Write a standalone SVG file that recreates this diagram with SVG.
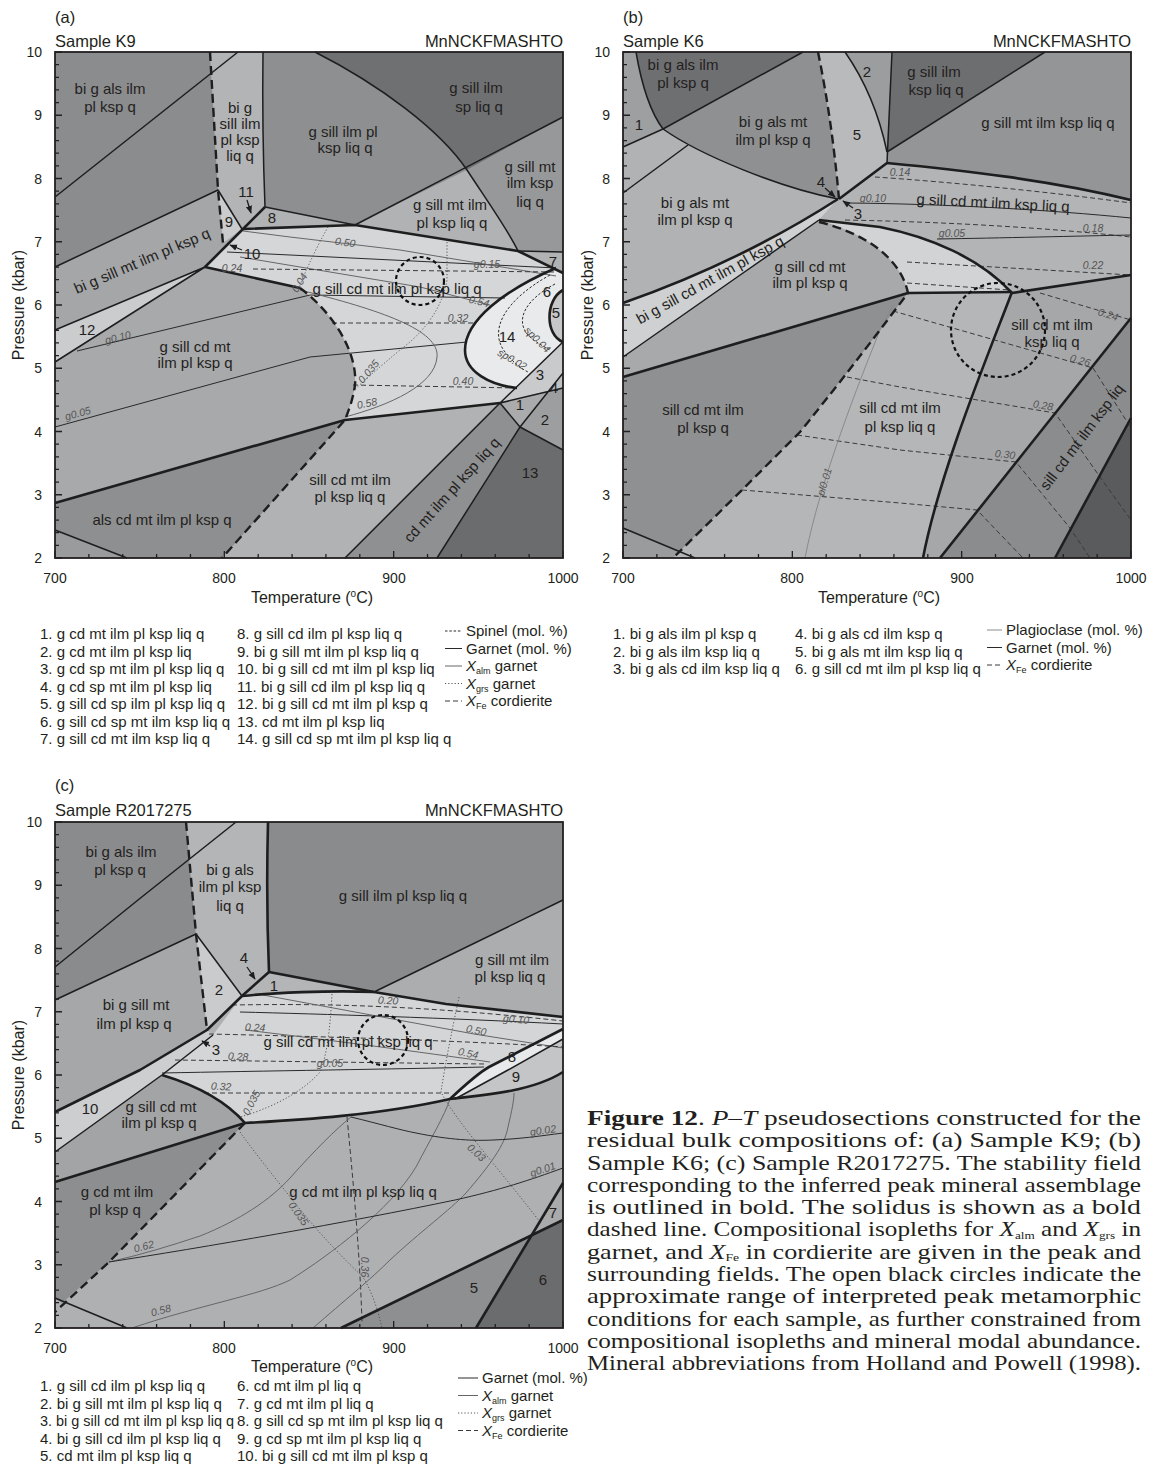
<svg xmlns="http://www.w3.org/2000/svg" width="1166" height="1479" viewBox="0 0 1166 1479">
<defs>
<style>
text{font-family:"Liberation Sans",Arial,sans-serif;fill:#231f20}
.l{font-size:15px;text-anchor:middle}
.ty{font-size:14px;text-anchor:end}
.tx{font-size:14px;text-anchor:middle}
.hd{font-size:16.5px}
.ax{font-size:16px;text-anchor:middle}
.iso{font-size:10.5px;font-style:italic;fill:#555;text-anchor:middle}
.lg{font-size:15px}
.cap{font-family:"Liberation Serif","Times New Roman",serif;font-size:21px}
.fr{fill:none;stroke:#231f20;stroke-width:1.8}
.m{fill:none;stroke:#1e1e1e;stroke-width:1.5;stroke-linejoin:round}
.b{fill:none;stroke:#1e1e1e;stroke-width:2.6;stroke-linejoin:round}
.s{fill:none;stroke:#1e1e1e;stroke-width:2.4;stroke-dasharray:9 5}
.g{fill:none;stroke:#2a2a2a;stroke-width:1}
.a{fill:none;stroke:#666;stroke-width:1}
.pl{fill:none;stroke:#8a8a8a;stroke-width:1}
.r{fill:none;stroke:#555;stroke-width:1;stroke-dasharray:1.2 2}
.f{fill:none;stroke:#3a3a3a;stroke-width:1;stroke-dasharray:5 3}
.sp{fill:none;stroke:#2a2a2a;stroke-width:1;stroke-dasharray:2.5 1.8}
.c{fill:none;stroke:#111;stroke-width:2.2;stroke-dasharray:4 3}
.ar{fill:none;stroke:#1e1e1e;stroke-width:1.3;marker-end:url(#ah)}
</style>
<marker id="ah" viewBox="0 0 10 10" refX="9" refY="5" markerWidth="6" markerHeight="6" orient="auto"><path d="M0,1 L10,5 L0,9 z" fill="#1e1e1e"/></marker>
<path id="xt" fill="none" stroke="#231f20" stroke-width="1.3" d="M0,0v-7M33.87,0v-4M67.73,0v-4M101.6,0v-4M135.47,0v-4M169.33,0v-7M203.2,0v-4M237.07,0v-4M270.93,0v-4M304.8,0v-4M338.67,0v-7M372.53,0v-4M406.4,0v-4M440.27,0v-4M474.13,0v-4M508,0v-7"/>
<path id="yt" fill="none" stroke="#231f20" stroke-width="1.3" d="M0,0h7M0,-12.65h4M0,-25.3h4M0,-37.95h4M0,-50.6h4M0,-63.25h7M0,-75.9h4M0,-88.55h4M0,-101.2h4M0,-113.85h4M0,-126.5h7M0,-139.15h4M0,-151.8h4M0,-164.45h4M0,-177.1h4M0,-189.75h7M0,-202.4h4M0,-215.05h4M0,-227.7h4M0,-240.35h4M0,-253h7M0,-265.65h4M0,-278.3h4M0,-290.95h4M0,-303.6h4M0,-316.25h7M0,-328.9h4M0,-341.55h4M0,-354.2h4M0,-366.85h4M0,-379.5h7M0,-392.15h4M0,-404.8h4M0,-417.45h4M0,-430.1h4M0,-442.75h7M0,-455.4h4M0,-468.05h4M0,-480.7h4M0,-493.35h4M0,-506h7"/>
</defs>
<rect width="1166" height="1479" fill="#fff"/>

<!-- ================= PANEL A ================= -->
<g id="panel-a">
<g id="a-fields" stroke="none">
<rect x="55" y="52" width="508" height="506" fill="#a8a9ab"/>
<path fill="#8b8c8e" d="M55,52H210L218,190L55,267Z"/>
<path fill="#b3b4b6" d="M210,52H263Q262,130 265,207L242,229L218,190Z"/>
<path fill="#cbcccd" d="M218,190L242,229L223,243Z"/>
<path fill="#a5a6a8" d="M55,267L218,190L223,243L205,267L55,330Z"/>
<path fill="#cbcccd" d="M55,330L205,267L55,362Z"/>
<path fill="#8e8f91" d="M263,52H315C380,85 440,130 467,170L355,225L265,207Q262,130 263,52Z"/>
<path fill="#6f7072" d="M315,52H563V117L467,170C440,130 380,85 315,52Z"/>
<path fill="#97989a" d="M467,170L563,117V252L518,251C508,230 490,205 467,170Z"/>
<path fill="#b1b2b4" d="M355,225L467,170C490,205 508,230 518,251Z"/>
<path fill="#b1b2b4" d="M265,207L355,225L243,229Z"/>
<path fill="#b1b2b4" d="M518,251L563,252V273Z"/>
<path fill="#d5d6d8" d="M205,267L243,229L355,225L518,251L556,268C505,290 465,320 465,350C465,372 490,385 517,388L500,403L345,420C348,412 353,400 355,385C358,350 330,310 300,288Z"/>
<path fill="#e9eaeb" d="M556,268L563,273V342L517,388C490,385 465,372 465,350C465,320 505,290 556,268Z"/>
<path fill="#c6c7c9" d="M563,290C545,300 545,335 563,342Z"/>
<path fill="#c9cacc" d="M500,403L517,388L563,342V373L548,391Z"/>
<path fill="#bfc0c2" d="M548,391L563,373V388Z"/>
<path fill="#aaabad" d="M500,403L548,391L520,427Z"/>
<path fill="#9d9ea0" d="M548,391L563,388V450L520,427Z"/>
<path fill="#6b6c6e" d="M520,427L563,450V558H437Z"/>
<path fill="#8f9092" d="M500,403L520,427L437,558H345Z"/>
<path fill="#b1b2b4" d="M345,420L500,403L345,558H222Z"/>
<path fill="#8e8f91" d="M55,503L345,420L222,558H127L55,530Z"/>
<path fill="#9a9b9d" d="M55,530L127,558H55Z"/>
</g>
<g id="a-isopleths">
<path class="g" d="M227,252L290,255L556,268"/>
<path class="g" d="M77,351L310,295L505,298"/>
<path class="g" d="M55,427L310,357L467,342"/>
<path class="a" d="M243,231L290,237L400,250L556,276"/>
<path class="a" d="M240,257L330,272L420,287L490,305"/>
<path class="a" d="M300,290C380,310 440,330 437,357C435,385 390,405 345,417"/>
<path class="r" d="M328,227Q312,255 298,290"/>
<path class="r" d="M447,242L447,280Q440,320 400,350Q370,375 352,392"/>
<path class="f" d="M253,269L556,272"/>
<path class="f" d="M332,323L475,323"/>
<path class="f" d="M353,385L517,388"/>
<path class="sp" d="M550,275C505,300 488,330 505,352C513,362 520,368 528,372"/>
<path class="sp" d="M555,284C525,300 515,320 528,335C535,342 543,346 550,350"/>
</g>
<g id="a-boundaries">
<path class="m" d="M55,197L238,52"/>
<path class="m" d="M55,267L218,190L242,229"/>
<path class="m" d="M55,330L205,267M55,362L205,267" stroke-width="2"/>
<path class="m" d="M263,52Q262,130 265,207" stroke-width="2"/>
<path class="m" d="M265,207L355,225"/>
<path class="m" d="M315,52C380,85 440,130 467,170C490,205 508,230 518,251"/>
<path class="m" d="M355,225L563,117"/>
<path class="m" d="M518,251L563,252"/>
<path class="m" d="M500,403L563,342M500,403L563,388M520,427L563,373M500,403L520,427L563,450"/>
<path class="m" d="M520,427L437,558M500,403L345,558" stroke-width="2"/>
<path class="m" d="M55,530L127,558"/>
<path class="b" d="M55,503L345,420L500,403"/>
<path class="b" d="M265,207L243,229L205,267L300,288"/>
<path class="b" d="M243,229L355,225L518,251L563,273"/>
<path class="b" d="M556,268C505,290 465,320 465,350C465,372 490,385 517,388"/>
<path class="b" d="M563,290C545,300 545,335 563,342"/>
<path class="s" d="M210,52L218,190L223,243"/>
<path class="s" d="M300,288C330,310 358,350 355,385C353,400 348,412 345,420L222,558"/>
<circle class="c" cx="420" cy="281" r="24"/>
</g>
<rect class="fr" x="55" y="52" width="508" height="506"/>
<use href="#xt" x="55" y="558"/>
<use href="#yt" x="55" y="558"/>
<g id="a-labels">
<text class="l" x="110" y="94">bi g als ilm</text>
<text class="l" x="110" y="112">pl ksp q</text>
<text class="l" x="240" y="113">bi g</text>
<text class="l" x="240" y="129">sill ilm</text>
<text class="l" x="240" y="145">pl ksp</text>
<text class="l" x="240" y="161">liq q</text>
<text class="l" x="343" y="137">g sill ilm pl</text>
<text class="l" x="345" y="153">ksp liq q</text>
<text class="l" x="476" y="93">g sill ilm</text>
<text class="l" x="479" y="112">sp liq q</text>
<text class="l" x="530" y="172">g sill mt</text>
<text class="l" x="530" y="188">ilm ksp</text>
<text class="l" x="530" y="207">liq q</text>
<text class="l" x="450" y="210">g sill mt ilm</text>
<text class="l" x="452" y="228">pl ksp liq q</text>
<text class="l" x="0" y="5" transform="translate(142,261) rotate(-23)">bi g sill mt ilm pl ksp q</text>
<text class="l" x="87" y="335">12</text>
<text class="l" x="195" y="352">g sill cd mt</text>
<text class="l" x="195" y="368">ilm pl ksp q</text>
<text class="l" x="397" y="294">g sill cd mt ilm pl ksp liq q</text>
<text class="l" x="162" y="525">als cd mt ilm pl ksp q</text>
<text class="l" x="350" y="485">sill cd mt ilm</text>
<text class="l" x="350" y="502">pl ksp liq q</text>
<text class="l" x="0" y="5" transform="translate(452,490) rotate(-48)">cd mt ilm pl ksp liq q</text>
<text class="l" x="530" y="478">13</text>
<text class="l" x="520" y="410">1</text>
<text class="l" x="545" y="425">2</text>
<text class="l" x="540" y="380">3</text>
<text class="l" x="554" y="393">4</text>
<text class="l" x="556" y="318">5</text>
<text class="l" x="547" y="297">6</text>
<text class="l" x="553" y="267">7</text>
<text class="l" x="507" y="342">14</text>
<text class="l" x="272" y="223">8</text>
<text class="l" x="229" y="227">9</text>
<text class="l" x="246" y="197">11</text>
<text class="l" x="252" y="259">10</text>
<path class="ar" d="M247,200L251,213"/>
<path class="ar" d="M242,250L230,245"/>
<text class="iso" x="0" y="3" transform="translate(345,243) rotate(8)">0.50</text>
<text class="iso" x="487" y="268">g0.15</text>
<text class="iso" x="232" y="272">0.24</text>
<text class="iso" x="0" y="3" transform="translate(300,283) rotate(-58)">0.04</text>
<text class="iso" x="0" y="3" transform="translate(479,302) rotate(14)">0.54</text>
<text class="iso" x="458" y="322">0.32</text>
<text class="iso" x="0" y="3" transform="translate(369,372) rotate(-50)">0.035</text>
<text class="iso" x="463" y="385">0.40</text>
<text class="iso" x="0" y="3" transform="translate(367,404) rotate(-12)">0.58</text>
<text class="iso" x="0" y="3" transform="translate(118,338) rotate(-14)">g0.10</text>
<text class="iso" x="0" y="3" transform="translate(78,414) rotate(-15)">g0.05</text>
<text class="iso" x="0" y="3" transform="translate(512,360) rotate(30)">sp0.02</text>
<text class="iso" x="0" y="3" transform="translate(537,340) rotate(45)">sp0.04</text>
</g>
<g id="a-axes">
<text class="hd" x="55" y="23">(a)</text>
<text class="hd" x="55" y="47">Sample K9</text>
<text class="hd" x="563" y="47" text-anchor="end">MnNCKFMASHTO</text>
<text class="ty" x="42" y="57">10</text><text class="ty" x="42" y="120">9</text><text class="ty" x="42" y="184">8</text><text class="ty" x="42" y="247">7</text><text class="ty" x="42" y="310">6</text><text class="ty" x="42" y="373">5</text><text class="ty" x="42" y="437">4</text><text class="ty" x="42" y="500">3</text><text class="ty" x="42" y="563">2</text>
<text class="tx" x="55" y="583">700</text><text class="tx" x="224" y="583">800</text><text class="tx" x="394" y="583">900</text><text class="tx" x="563" y="583">1000</text>
<text class="ax" transform="translate(24,305) rotate(-90)">Pressure (kbar)</text>
<text class="ax" x="312" y="603">Temperature (<tspan font-size="10" dy="-6">o</tspan><tspan dy="6">C)</tspan></text>
</g>
</g>

<!-- ================= PANEL B ================= -->
<g id="panel-b">
<g id="b-fields" stroke="none">
<rect x="623" y="52" width="508" height="506" fill="#b1b2b4"/>
<path fill="#9e9fa1" d="M623,52H636Q645,105 663,129L623,147Z"/>
<path fill="#6e6f71" d="M636,52H803L663,129Q645,105 636,52Z"/>
<path fill="#8f9092" d="M663,129L803,52H818Q832,120 839,199C780,188 700,155 663,129Z"/>
<path fill="#b9babc" d="M818,52H845Q875,95 887,152V163L839,199Q832,120 818,52Z"/>
<path fill="#9c9d9f" d="M845,52H892L887,152Q875,95 845,52Z"/>
<path fill="#6d6e70" d="M892,52H1045L887,152Z"/>
<path fill="#949597" d="M1045,52H1131V200C1050,180 960,170 887,163V152Z"/>
<path fill="#cfd0d2" d="M623,303Q740,262 838,199L819,220L733,280L623,357Z"/>
<path fill="#a8a9ab" d="M623,357L733,280L819,220C860,232 900,255 908,293L623,377Z"/>
<path fill="#b3b4b6" d="M838,199L887,163C960,170 1050,180 1131,200V275L1012,293C980,258 930,237 880,227L819,220Z"/>
<path fill="#d2d3d5" d="M819,220L880,227C930,237 980,258 1012,293L908,293C900,255 860,232 819,220Z"/>
<path fill="#8f9092" d="M623,377L908,293C880,330 850,370 800,432L742,490L673,558H623Z"/>
<path fill="#9a9b9d" d="M623,528L680,551L673,558H623Z"/>
<path fill="#b5b6b8" d="M908,293L1012,292C990,350 940,470 923,558H673L742,490L800,432C850,370 880,330 908,293Z"/>
<path fill="#a6a7a9" d="M1012,292L1131,275V318L940,558H923C940,470 990,350 1012,292Z"/>
<path fill="#8b8c8e" d="M940,558L1131,318V418L1055,558Z"/>
<path fill="#5a5b5d" d="M1055,558L1131,418V558Z"/>
</g>
<g id="b-isopleths">
<path class="f" d="M875,177C950,182 1050,192 1131,203"/>
<path class="g" d="M848,203C950,204 1050,210 1131,218"/>
<path class="f" d="M845,220C950,222 1050,228 1131,237"/>
<path class="g" d="M937,239C1000,238 1080,236 1131,235"/>
<path class="f" d="M907,262L1131,275"/>
<path class="f" d="M907,283L1010,290"/>
<path class="f" d="M1040,293L1131,320"/>
<path class="f" d="M893,311L1093,368L1131,428"/>
<path class="f" d="M847,377L900,387L1055,413L1100,477L1131,520"/>
<path class="f" d="M797,435L900,450L1016,462L1070,528L1090,558"/>
<path class="f" d="M742,490L900,503L977,510L1023,558"/>
<path class="pl" d="M805,558C820,480 860,380 880,330L893,305"/>
</g>
<g id="b-boundaries">
<path class="m" d="M623,147L663,129L803,52"/>
<path class="m" d="M623,193L688,145"/>
<path class="m" d="M663,129C700,155 780,188 838,199"/>
<path class="m" d="M636,52Q645,105 663,129"/>
<path class="m" d="M845,52Q875,95 887,152"/>
<path class="m" d="M892,52L887,163"/>
<path class="m" d="M887,152L1045,52"/>
<path class="m" d="M623,357L733,280L819,220"/>
<path class="m" d="M623,528L695,558"/>
<path class="b" d="M839,199L887,163C960,170 1050,180 1131,200"/>
<path class="b" d="M623,303Q740,262 838,199"/>
<path class="b" d="M819,220L880,227C930,237 980,258 1012,293L1131,275"/>
<path class="b" d="M623,377L908,293L1012,292"/>
<path class="b" d="M1012,292C990,350 940,470 923,558"/>
<path class="b" d="M940,558L1131,318"/>
<path class="b" d="M1055,558L1131,418"/>
<path class="s" d="M818,52Q832,120 839,199"/>
<path class="s" d="M819,222C860,232 900,255 908,293C880,330 850,370 800,432L742,490L673,558"/>
<circle class="c" cx="998" cy="330" r="47"/>
</g>
<rect class="fr" x="623" y="52" width="508" height="506"/>
<use href="#xt" x="623" y="558"/>
<use href="#yt" x="623" y="558"/>
<g id="b-labels">
<text class="l" x="683" y="70">bi g als ilm</text>
<text class="l" x="683" y="88">pl ksp q</text>
<text class="l" x="639" y="130">1</text>
<text class="l" x="773" y="127">bi g als mt</text>
<text class="l" x="773" y="145">ilm pl ksp q</text>
<text class="l" x="867" y="77">2</text>
<text class="l" x="857" y="140">5</text>
<text class="l" x="934" y="77">g sill ilm</text>
<text class="l" x="936" y="95">ksp liq q</text>
<text class="l" x="1048" y="128">g sill mt ilm ksp liq q</text>
<text class="l" x="695" y="208">bi g als mt</text>
<text class="l" x="695" y="225">ilm pl ksp q</text>
<text class="l" x="821" y="187">4</text>
<path class="ar" d="M825,188L835,197"/>
<text class="l" x="858" y="219">3</text>
<path class="ar" d="M853,208L843,201"/>
<text class="l" x="0" y="5" transform="translate(993,203) rotate(3)">g sill cd mt ilm ksp liq q</text>
<text class="l" x="0" y="5" transform="translate(710,280) rotate(-29)">bi g sill cd mt ilm pl ksp q</text>
<text class="l" x="810" y="272">g sill cd mt</text>
<text class="l" x="810" y="288">ilm pl ksp q</text>
<text class="l" x="703" y="415">sill cd mt ilm</text>
<text class="l" x="703" y="433">pl ksp q</text>
<text class="l" x="900" y="413">sill cd mt ilm</text>
<text class="l" x="900" y="432">pl ksp liq q</text>
<text class="l" x="1052" y="330">sill cd mt ilm</text>
<text class="l" x="1052" y="347">ksp liq q</text>
<text class="l" x="0" y="5" transform="translate(1082,437) rotate(-53)">sill cd mt ilm ksp liq</text>
<text class="iso" x="873" y="202">g0.10</text>
<text class="iso" x="900" y="176">0.14</text>
<text class="iso" x="1093" y="232">0.18</text>
<text class="iso" x="952" y="237">g0.05</text>
<text class="iso" x="1093" y="269">0.22</text>
<text class="iso" x="0" y="3" transform="translate(1108,315) rotate(17)">0.24</text>
<text class="iso" x="0" y="3" transform="translate(1080,361) rotate(16)">0.26</text>
<text class="iso" x="0" y="3" transform="translate(1043,406) rotate(9)">0.28</text>
<text class="iso" x="0" y="3" transform="translate(1005,455) rotate(6)">0.30</text>
<text class="iso" x="0" y="3" transform="translate(825,482) rotate(-73)">pl0.01</text>
</g>
<g id="b-axes">
<text class="hd" x="623" y="23">(b)</text>
<text class="hd" x="623" y="47">Sample K6</text>
<text class="hd" x="1131" y="47" text-anchor="end">MnNCKFMASHTO</text>
<text class="ty" x="610" y="57">10</text><text class="ty" x="610" y="120">9</text><text class="ty" x="610" y="184">8</text><text class="ty" x="610" y="247">7</text><text class="ty" x="610" y="310">6</text><text class="ty" x="610" y="373">5</text><text class="ty" x="610" y="437">4</text><text class="ty" x="610" y="500">3</text><text class="ty" x="610" y="563">2</text>
<text class="tx" x="623" y="583">700</text><text class="tx" x="792" y="583">800</text><text class="tx" x="962" y="583">900</text><text class="tx" x="1131" y="583">1000</text>
<text class="ax" transform="translate(593,305) rotate(-90)">Pressure (kbar)</text>
<text class="ax" x="879" y="603">Temperature (<tspan font-size="10" dy="-6">o</tspan><tspan dy="6">C)</tspan></text>
</g>
</g>

<!-- ================= PANEL C ================= -->
<g id="panel-c">
<g id="c-fields" stroke="none">
<rect x="55" y="822" width="508" height="506" fill="#afb0b2"/>
<path fill="#8a8b8d" d="M55,822H186L196,934L55,1000Z"/>
<path fill="#b4b5b7" d="M186,822H268Q266,900 269,972L242,996L196,934Z"/>
<path fill="#cacbcd" d="M196,934L242,996L207,1030Z"/>
<path fill="#a6a7a9" d="M55,1000L196,934L207,1030L140,1070L55,1112Z"/>
<path fill="#cdced0" d="M55,1112L140,1070L207,1030L213,1035L162,1075L55,1152Z"/>
<path fill="#8a8b8d" d="M268,822H563V900L374,992L269,972Q266,900 268,822Z"/>
<path fill="#acadaf" d="M374,992L563,900V1017L446,1004Z"/>
<path fill="#b4b5b7" d="M242,996L269,972L374,992C330,990 270,993 242,996Z"/>
<path fill="#d4d5d7" d="M162,1075L213,1035L242,996C270,993 330,990 374,992L446,1004L563,1017V1029L489,1067C480,1072 465,1085 450,1099C380,1115 300,1120 245,1123C225,1100 195,1085 162,1075Z"/>
<path fill="#e8e9ea" d="M450,1099C465,1085 480,1072 489,1067L563,1029V1039L508,1070L455,1099Z"/>
<path fill="#c4c5c7" d="M455,1099L508,1070L563,1039V1072C535,1090 490,1095 450,1099Z"/>
<path fill="#a3a4a6" d="M55,1152L162,1075C195,1085 225,1100 245,1123L55,1182Z"/>
<path fill="#8d8e90" d="M55,1182L245,1123L109,1262L62,1303L55,1298Z"/>
<path fill="#8e8f91" d="M341,1328L531,1235L476,1328Z"/>
<path fill="#6b6c6e" d="M531,1235L563,1220V1328H476Z"/>
<path fill="#a9aaac" d="M531,1235L563,1183V1220Z"/>
</g>
<g id="c-isopleths">
<path class="f" d="M232,1005C300,1004 400,1003 563,1021"/>
<path class="g" d="M240,1012C320,1014 450,1018 563,1024"/>
<path class="a" d="M263,995L474,1034L563,1048"/>
<path class="f" d="M209,1034C300,1036 450,1040 563,1047"/>
<path class="a" d="M245,1030C330,1040 420,1052 490,1062"/>
<path class="f" d="M175,1060C260,1061 400,1063 485,1064"/>
<path class="g" d="M162,1073C260,1071 400,1069 484,1067"/>
<path class="f" d="M204,1093L452,1093"/>
<path class="r" d="M332,994C330,1030 327,1055 320,1072C300,1095 265,1110 240,1117"/>
<path class="r" d="M459,997C452,1030 445,1065 441,1092C455,1120 500,1170 540,1222"/>
<path class="r" d="M240,1132C260,1160 285,1190 298,1207C325,1240 350,1265 363,1277C372,1292 378,1310 382,1328"/>
<path class="f" d="M347,1117C355,1200 360,1260 362,1322"/>
<path class="a" d="M109,1262C140,1255 170,1246 200,1236C240,1220 270,1200 290,1178C315,1150 335,1130 351,1117"/>
<path class="a" d="M132,1328C200,1305 260,1295 290,1280C330,1255 390,1210 416,1167C430,1140 445,1115 450,1099"/>
<path class="a" d="M313,1328C345,1300 370,1280 390,1260C420,1232 450,1210 466,1193C490,1165 505,1145 508,1127C512,1110 514,1100 514,1093"/>
<path class="g" d="M109,1262C200,1248 350,1222 455,1200C500,1190 530,1180 563,1168"/>
<path class="g" d="M351,1117C380,1124 400,1130 416,1133C450,1140 475,1141 493,1140C520,1139 540,1136 563,1133"/>
</g>
<g id="c-boundaries">
<path class="m" d="M55,967L138,900L236,822"/>
<path class="m" d="M55,1000L196,934L242,996"/>
<path class="m" d="M563,900L374,992"/>
<path class="m" d="M55,1152L162,1075L213,1035"/>
<path class="m" d="M455,1099L508,1070L563,1039"/>
<path class="m" d="M55,1298L127,1328"/>
<path class="b" d="M268,822Q266,900 269,972L242,996L207,1030L140,1070L55,1112"/>
<path class="b" d="M269,972L374,992L446,1004L563,1017"/>
<path class="b" d="M242,996C270,993 330,990 374,992"/>
<path class="b" d="M450,1099C465,1085 480,1072 489,1067L563,1029"/>
<path class="b" d="M55,1182L245,1123C300,1120 380,1115 450,1099C490,1095 535,1090 563,1072"/>
<path class="b" d="M162,1075C195,1085 225,1100 245,1123"/>
<path class="b" d="M341,1328L563,1220"/>
<path class="b" d="M476,1328L563,1183"/>
<path class="s" d="M186,822L196,934L207,1030"/>
<path class="s" d="M245,1123L109,1262L55,1312"/>
<circle class="c" cx="383" cy="1040" r="25"/>
</g>
<rect class="fr" x="55" y="822" width="508" height="506"/>
<use href="#xt" x="55" y="1328"/>
<use href="#yt" x="55" y="1328"/>
<g id="c-labels">
<text class="l" x="121" y="857">bi g als ilm</text>
<text class="l" x="120" y="875">pl ksp q</text>
<text class="l" x="230" y="875">bi g als</text>
<text class="l" x="230" y="892">ilm pl ksp</text>
<text class="l" x="230" y="911">liq q</text>
<text class="l" x="403" y="901">g sill ilm pl ksp liq q</text>
<text class="l" x="512" y="965">g sill mt ilm</text>
<text class="l" x="510" y="982">pl ksp liq q</text>
<text class="l" x="136" y="1010">bi g sill mt</text>
<text class="l" x="134" y="1029">ilm pl ksp q</text>
<text class="l" x="244" y="963">4</text>
<path class="ar" d="M247,967L255,979"/>
<text class="l" x="274" y="991">1</text>
<text class="l" x="219" y="995">2</text>
<text class="l" x="216" y="1055">3</text>
<path class="ar" d="M210,1046L202,1041"/>
<text class="l" x="348" y="1047">g sill cd mt ilm pl ksp liq q</text>
<text class="l" x="90" y="1114">10</text>
<text class="l" x="161" y="1112">g sill cd mt</text>
<text class="l" x="159" y="1128">ilm pl ksp q</text>
<text class="l" x="117" y="1197">g cd mt ilm</text>
<text class="l" x="115" y="1215">pl ksp q</text>
<text class="l" x="363" y="1197">g cd mt ilm pl ksp liq q</text>
<text class="l" x="474" y="1293">5</text>
<text class="l" x="543" y="1285">6</text>
<text class="l" x="553" y="1218">7</text>
<text class="l" x="512" y="1062">8</text>
<text class="l" x="516" y="1082">9</text>
<text class="iso" x="0" y="3" transform="translate(388,1001) rotate(3)">0.20</text>
<text class="iso" x="0" y="3" transform="translate(255,1028) rotate(3)">0.24</text>
<text class="iso" x="0" y="3" transform="translate(516,1020) rotate(5)">g0.10</text>
<text class="iso" x="0" y="3" transform="translate(476,1031) rotate(12)">0.50</text>
<text class="iso" x="0" y="3" transform="translate(468,1054) rotate(12)">0.54</text>
<text class="iso" x="0" y="3" transform="translate(238,1057) rotate(3)">0.28</text>
<text class="iso" x="330" y="1067">g0.05</text>
<text class="iso" x="0" y="3" transform="translate(221,1087) rotate(3)">0.32</text>
<text class="iso" x="0" y="3" transform="translate(252,1103) rotate(-62)">0.035</text>
<text class="iso" x="0" y="3" transform="translate(543,1131) rotate(-8)">g0.02</text>
<text class="iso" x="0" y="3" transform="translate(476,1153) rotate(42)">0.03</text>
<text class="iso" x="0" y="3" transform="translate(543,1170) rotate(-18)">g0.01</text>
<text class="iso" x="0" y="3" transform="translate(298,1214) rotate(55)">0.035</text>
<text class="iso" x="0" y="3" transform="translate(364,1267) rotate(90)">0.36</text>
<text class="iso" x="0" y="3" transform="translate(144,1247) rotate(-14)">0.62</text>
<text class="iso" x="0" y="3" transform="translate(161,1311) rotate(-15)">0.58</text>
</g>
<g id="c-axes">
<text class="hd" x="55" y="791">(c)</text>
<text class="hd" x="55" y="816">Sample R2017275</text>
<text class="hd" x="563" y="816" text-anchor="end">MnNCKFMASHTO</text>
<text class="ty" x="42" y="827">10</text><text class="ty" x="42" y="890">9</text><text class="ty" x="42" y="954">8</text><text class="ty" x="42" y="1017">7</text><text class="ty" x="42" y="1080">6</text><text class="ty" x="42" y="1143">5</text><text class="ty" x="42" y="1207">4</text><text class="ty" x="42" y="1270">3</text><text class="ty" x="42" y="1333">2</text>
<text class="tx" x="55" y="1353">700</text><text class="tx" x="224" y="1353">800</text><text class="tx" x="394" y="1353">900</text><text class="tx" x="563" y="1353">1000</text>
<text class="ax" transform="translate(24,1075) rotate(-90)">Pressure (kbar)</text>
<text class="ax" x="312" y="1372">Temperature (<tspan font-size="10" dy="-6">o</tspan><tspan dy="6">C)</tspan></text>
</g>
</g>

<!-- ================= LEGENDS ================= -->
<g id="legend-a">
<text class="lg" x="40" y="639">1. g cd mt ilm pl ksp liq q</text>
<text class="lg" x="40" y="656.5">2. g cd mt ilm pl ksp liq</text>
<text class="lg" x="40" y="674">3. g cd sp mt ilm pl ksp liq q</text>
<text class="lg" x="40" y="691.5">4. g cd sp mt ilm pl ksp liq</text>
<text class="lg" x="40" y="709">5. g sill cd sp ilm pl ksp liq q</text>
<text class="lg" x="40" y="726.5">6. g sill cd sp mt ilm ksp liq q</text>
<text class="lg" x="40" y="744">7. g sill cd mt ilm ksp liq q</text>
<text class="lg" x="237" y="639">8. g sill cd ilm pl ksp liq q</text>
<text class="lg" x="237" y="656.5">9. bi g sill mt ilm pl ksp liq q</text>
<text class="lg" x="237" y="674">10. bi g sill cd mt ilm pl ksp liq</text>
<text class="lg" x="237" y="691.5">11. bi g sill cd ilm pl ksp liq q</text>
<text class="lg" x="237" y="709">12. bi g sill cd mt ilm pl ksp q</text>
<text class="lg" x="237" y="726.5">13. cd mt ilm pl ksp liq</text>
<text class="lg" x="237" y="744">14. g sill cd sp mt ilm pl ksp liq q</text>
<path class="sp" d="M445,631H462"/>
<path class="g" d="M445,648.5H462" stroke-width="1.3"/>
<path class="a" d="M445,666H462" stroke="#888" stroke-width="1.3"/>
<path class="r" d="M445,683.5H462"/>
<path class="f" d="M445,701H462"/>
<text class="lg" x="466" y="636">Spinel (mol. %)</text>
<text class="lg" x="466" y="653.5">Garnet (mol. %)</text>
<text class="lg" x="466" y="671"><tspan font-style="italic">X</tspan><tspan font-size="9" dy="3">alm</tspan><tspan dy="-3"> garnet</tspan></text>
<text class="lg" x="466" y="688.5"><tspan font-style="italic">X</tspan><tspan font-size="9" dy="3">grs</tspan><tspan dy="-3"> garnet</tspan></text>
<text class="lg" x="466" y="706"><tspan font-style="italic">X</tspan><tspan font-size="9" dy="3">Fe</tspan><tspan dy="-3"> cordierite</tspan></text>
</g>
<g id="legend-b">
<text class="lg" x="613" y="639">1. bi g als ilm pl ksp q</text>
<text class="lg" x="613" y="656.5">2. bi g als ilm ksp liq q</text>
<text class="lg" x="613" y="674">3. bi g als cd ilm ksp liq q</text>
<text class="lg" x="795" y="639">4. bi g als cd ilm ksp q</text>
<text class="lg" x="795" y="656.5">5. bi g als mt ilm ksp liq q</text>
<text class="lg" x="795" y="674">6. g sill cd mt ilm pl ksp liq q</text>
<path class="pl" d="M987,630H1002" stroke-width="1.3"/>
<path class="g" d="M987,647.5H1002" stroke-width="1.3"/>
<path class="f" d="M987,665H1002"/>
<text class="lg" x="1006" y="635">Plagioclase (mol. %)</text>
<text class="lg" x="1006" y="652.5">Garnet (mol. %)</text>
<text class="lg" x="1006" y="670"><tspan font-style="italic">X</tspan><tspan font-size="9" dy="3">Fe</tspan><tspan dy="-3"> cordierite</tspan></text>
</g>
<g id="legend-c">
<text class="lg" x="40" y="1391">1. g sill cd ilm pl ksp liq q</text>
<text class="lg" x="40" y="1408.5">2. bi g sill mt ilm pl ksp liq q</text>
<text class="lg" x="40" y="1426" textLength="194" lengthAdjust="spacingAndGlyphs">3. bi g sill cd mt ilm pl ksp liq q</text>
<text class="lg" x="40" y="1443.5">4. bi g sill cd ilm pl ksp liq q</text>
<text class="lg" x="40" y="1461">5. cd mt ilm pl ksp liq q</text>
<text class="lg" x="237" y="1391">6. cd mt ilm pl liq q</text>
<text class="lg" x="237" y="1408.5">7. g cd mt ilm pl liq q</text>
<text class="lg" x="237" y="1426">8. g sill cd sp mt ilm pl ksp liq q</text>
<text class="lg" x="237" y="1443.5">9. g cd sp mt ilm pl ksp liq q</text>
<text class="lg" x="237" y="1461">10. bi g sill cd mt ilm pl ksp q</text>
<path class="g" d="M458,1378H478" stroke-width="1.3"/>
<path class="a" d="M458,1395.5H478" stroke="#888" stroke-width="1.3"/>
<path class="r" d="M458,1413H478"/>
<path class="f" d="M458,1430.5H478"/>
<text class="lg" x="482" y="1383">Garnet (mol. %)</text>
<text class="lg" x="482" y="1400.5"><tspan font-style="italic">X</tspan><tspan font-size="9" dy="3">alm</tspan><tspan dy="-3"> garnet</tspan></text>
<text class="lg" x="482" y="1418"><tspan font-style="italic">X</tspan><tspan font-size="9" dy="3">grs</tspan><tspan dy="-3"> garnet</tspan></text>
<text class="lg" x="482" y="1435.5"><tspan font-style="italic">X</tspan><tspan font-size="9" dy="3">Fe</tspan><tspan dy="-3"> cordierite</tspan></text>
</g>

<!-- ================= CAPTION ================= -->
<g id="caption">
<text class="cap" x="587" y="1125" textLength="554" lengthAdjust="spacingAndGlyphs"><tspan font-weight="bold">Figure 12</tspan>. <tspan font-style="italic">P–T</tspan> pseudosections constructed for the</text>
<text class="cap" x="587" y="1147.3" textLength="554" lengthAdjust="spacingAndGlyphs">residual bulk compositions of: (a) Sample K9; (b)</text>
<text class="cap" x="587" y="1169.5" textLength="554" lengthAdjust="spacingAndGlyphs">Sample K6; (c) Sample R2017275. The stability field</text>
<text class="cap" x="587" y="1191.8" textLength="554" lengthAdjust="spacingAndGlyphs">corresponding to the inferred peak mineral assemblage</text>
<text class="cap" x="587" y="1214.1" textLength="554" lengthAdjust="spacingAndGlyphs">is outlined in bold. The solidus is shown as a bold</text>
<text class="cap" x="587" y="1236.4" textLength="554" lengthAdjust="spacingAndGlyphs">dashed line. Compositional isopleths for <tspan font-style="italic">X</tspan><tspan font-size="11" dy="2.5">alm</tspan><tspan dy="-2.5"> and </tspan><tspan font-style="italic">X</tspan><tspan font-size="11" dy="2.5">grs</tspan><tspan dy="-2.5"> in</tspan></text>
<text class="cap" x="587" y="1258.6" textLength="554" lengthAdjust="spacingAndGlyphs">garnet, and <tspan font-style="italic">X</tspan><tspan font-size="11" dy="2.5">Fe</tspan><tspan dy="-2.5"> in cordierite are given in the peak and</tspan></text>
<text class="cap" x="587" y="1280.9" textLength="554" lengthAdjust="spacingAndGlyphs">surrounding fields. The open black circles indicate the</text>
<text class="cap" x="587" y="1303.2" textLength="554" lengthAdjust="spacingAndGlyphs">approximate range of interpreted peak metamorphic</text>
<text class="cap" x="587" y="1325.5" textLength="554" lengthAdjust="spacingAndGlyphs">conditions for each sample, as further constrained from</text>
<text class="cap" x="587" y="1347.7" textLength="554" lengthAdjust="spacingAndGlyphs">compositional isopleths and mineral modal abundance.</text>
<text class="cap" x="587" y="1370" textLength="554" lengthAdjust="spacingAndGlyphs">Mineral abbreviations from Holland and Powell (1998).</text>
</g>
</svg>
